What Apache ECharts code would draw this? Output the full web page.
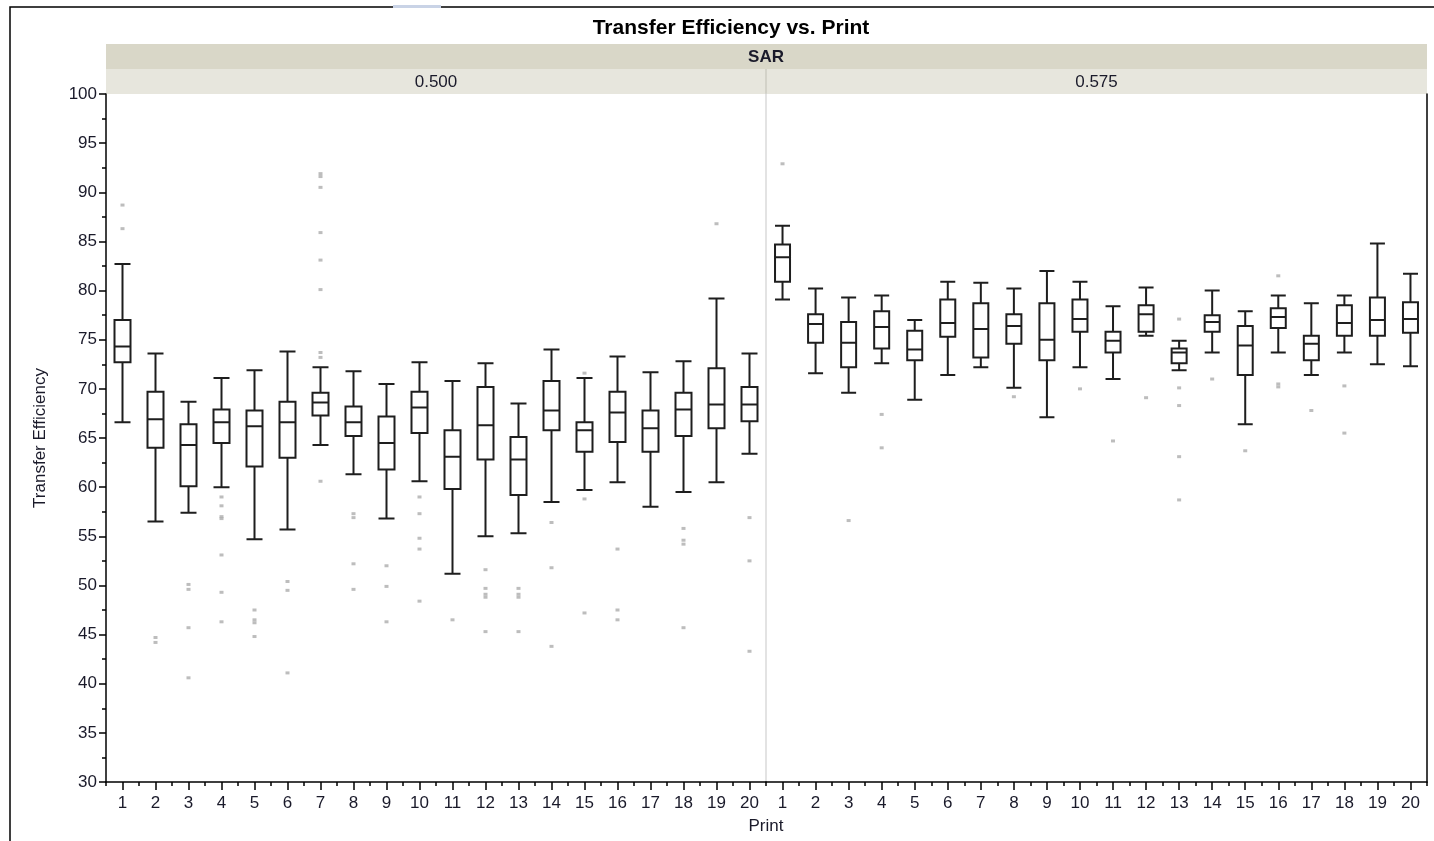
<!DOCTYPE html>
<html>
<head>
<meta charset="utf-8">
<script src="https://cdn.jsdelivr.net/npm/echarts@6/dist/echarts.min.js"></script>
<style>
html,body{margin:0;padding:0;background:#fff;}
#chart{width:1434px;height:841px;}
</style>
</head>
<body>
<div id="chart"></div>
<script>
// ---- Data ----
var printCategories = ['1','2','3','4','5','6','7','8','9','10','11','12','13','14','15','16','17','18','19','20'];
var panelLabels = ['0.500', '0.575'];
var yTicks = { min: 30, max: 100, step: 5 };

// [lower whisker, Q1, median, Q3, upper whisker]
var sar0500Boxes = [
  [66.6, 72.7, 74.3, 77.0, 82.7],
  [56.5, 64.0, 66.9, 69.7, 73.6],
  [57.4, 60.1, 64.3, 66.4, 68.7],
  [60.0, 64.5, 66.6, 67.9, 71.1],
  [54.7, 62.1, 66.2, 67.8, 71.9],
  [55.7, 63.0, 66.6, 68.7, 73.8],
  [64.3, 67.3, 68.6, 69.6, 72.2],
  [61.3, 65.2, 66.6, 68.2, 71.8],
  [56.8, 61.8, 64.5, 67.2, 70.5],
  [60.6, 65.5, 68.1, 69.7, 72.7],
  [51.2, 59.8, 63.1, 65.8, 70.8],
  [55.0, 62.8, 66.3, 70.2, 72.6],
  [55.3, 59.2, 62.8, 65.1, 68.5],
  [58.5, 65.8, 67.8, 70.8, 74.0],
  [59.7, 63.6, 65.8, 66.6, 71.1],
  [60.5, 64.6, 67.6, 69.7, 73.3],
  [58.0, 63.6, 66.0, 67.8, 71.7],
  [59.5, 65.2, 67.9, 69.6, 72.8],
  [60.5, 66.0, 68.4, 72.1, 79.2],
  [63.4, 66.7, 68.4, 70.2, 73.6]
];
var sar0500Outliers = [
  [88.7, 86.3],
  [44.7, 44.2],
  [50.1, 49.6, 45.7, 40.6],
  [59.0, 58.1, 57.0, 56.8, 53.1, 49.3, 46.3],
  [47.5, 46.5, 46.2, 44.8],
  [50.4, 49.5, 41.1],
  [91.9, 91.6, 90.5, 85.9, 83.1, 80.1, 73.7, 73.2, 60.6],
  [57.3, 56.9, 52.2, 49.6],
  [52.0, 49.9, 46.3],
  [59.0, 57.3, 54.8, 53.7, 48.4],
  [46.5],
  [51.6, 49.7, 49.1, 48.8, 45.3],
  [49.7, 49.1, 48.8, 45.3],
  [56.4, 51.8, 43.8],
  [71.6, 58.8, 47.2],
  [53.7, 47.5, 46.5],
  [],
  [55.8, 54.6, 54.2, 45.7],
  [86.8],
  [56.9, 52.5, 43.3]
];

var sar0575Boxes = [
  [79.1, 80.9, 83.4, 84.7, 86.6],
  [71.6, 74.7, 76.6, 77.6, 80.2],
  [69.6, 72.2, 74.7, 76.8, 79.3],
  [72.6, 74.1, 76.3, 77.9, 79.5],
  [68.9, 72.9, 74.0, 75.9, 77.0],
  [71.4, 75.3, 76.7, 79.1, 80.9],
  [72.2, 73.2, 76.1, 78.7, 80.8],
  [70.1, 74.6, 76.4, 77.6, 80.2],
  [67.1, 72.9, 75.0, 78.7, 82.0],
  [72.2, 75.8, 77.1, 79.1, 80.9],
  [71.0, 73.7, 74.9, 75.8, 78.4],
  [75.4, 75.8, 77.6, 78.5, 80.3],
  [71.9, 72.6, 73.7, 74.1, 74.9],
  [73.7, 75.8, 76.8, 77.5, 80.0],
  [66.4, 71.4, 74.4, 76.4, 77.9],
  [73.7, 76.2, 77.3, 78.2, 79.5],
  [71.4, 72.9, 74.6, 75.4, 78.7],
  [73.7, 75.4, 76.7, 78.5, 79.5],
  [72.5, 75.4, 77.0, 79.3, 84.8],
  [72.3, 75.7, 77.1, 78.8, 81.7]
];
var sar0575Outliers = [
  [92.9],
  [],
  [56.6],
  [67.4, 64.0],
  [],
  [],
  [],
  [69.2],
  [],
  [70.0],
  [64.7],
  [69.1],
  [77.1, 70.1, 68.3, 63.1, 58.7],
  [71.0],
  [63.7],
  [81.5, 70.5, 70.2],
  [67.8],
  [70.3, 65.5],
  [],
  []
];

function flattenOutliers(list) {
  var out = [];
  list.forEach(function (vals, i) {
    vals.forEach(function (v) { out.push([i, v]); });
  });
  return out;
}

// ---- Chart ----
var FONT = 'Arial, "Liberation Sans", sans-serif';
var TXT = '#1a1a2a';
var chart = echarts.init(document.getElementById('chart'), null, { renderer: 'canvas' });

var L = 106, T = 94, H = 688, W0 = 660, W1 = 661, MID = 766;

function majorX(gi) {
  return {
    type: 'category', gridIndex: gi, position: 'bottom', data: printCategories, boundaryGap: true,
    axisLine: { show: true, lineStyle: { color: '#000', width: 1.5 } },
    axisTick: { show: true, alignWithLabel: true, length: 8, lineStyle: { color: '#000', width: 1.5 } },
    axisLabel: { show: true, interval: 0, fontSize: 17, fontFamily: FONT, color: TXT, margin: 13 },
    splitLine: { show: false }
  };
}
function minorX(gi) {
  return {
    type: 'category', gridIndex: gi, position: 'bottom', data: printCategories, boundaryGap: true,
    axisLine: { show: false },
    axisTick: { show: true, interval: 0, length: 4, lineStyle: { color: '#000', width: 1.5 } },
    axisLabel: { show: false },
    splitLine: { show: false }
  };
}

var boxStyle = { color: 'rgba(255,255,255,0)', borderColor: '#1e1e1e', borderWidth: 2 };
var outStyle = { color: '#acacac' };

chart.setOption({
  animation: false,
  backgroundColor: '#fff',
  grid: [
    { left: L, top: T, width: W0, height: H, containLabel: false },
    { left: MID, top: T, width: W1, height: H, containLabel: false }
  ],
  xAxis: [majorX(0), minorX(0), majorX(1), minorX(1)],
  yAxis: [
    {
      type: 'value', gridIndex: 0, min: yTicks.min, max: yTicks.max, interval: yTicks.step,
      axisLine: { show: true, lineStyle: { color: '#000', width: 1.5 } },
      axisTick: { show: true, length: 7, lineStyle: { color: '#000', width: 1.5 } },
      minorTick: { show: true, splitNumber: 2, length: 4, lineStyle: { color: '#000', width: 1.5 } },
      axisLabel: { fontSize: 17, fontFamily: FONT, color: TXT, margin: 9 },
      splitLine: { show: false }
    },
    {
      type: 'value', gridIndex: 1, min: yTicks.min, max: yTicks.max, interval: yTicks.step,
      axisLine: { show: true, lineStyle: { color: '#dadada', width: 1.5 } },
      axisTick: { show: false }, axisLabel: { show: false }, splitLine: { show: false }
    },
    {
      type: 'value', gridIndex: 1, position: 'right', min: yTicks.min, max: yTicks.max, interval: yTicks.step,
      axisLine: { show: true, lineStyle: { color: '#000', width: 1.5 } },
      axisTick: { show: false }, axisLabel: { show: false }, splitLine: { show: false }
    }
  ],
  series: [
    {
      type: 'boxplot', xAxisIndex: 0, yAxisIndex: 0, data: sar0500Boxes,
      boxWidth: [16, 16], itemStyle: boxStyle, silent: true
    },
    {
      type: 'boxplot', xAxisIndex: 2, yAxisIndex: 1, data: sar0575Boxes,
      boxWidth: [15, 15], itemStyle: boxStyle, silent: true
    },
    {
      type: 'scatter', xAxisIndex: 0, yAxisIndex: 0, data: flattenOutliers(sar0500Outliers),
      symbol: 'rect', symbolSize: [4, 3], itemStyle: outStyle, silent: true
    },
    {
      type: 'scatter', xAxisIndex: 2, yAxisIndex: 1, data: flattenOutliers(sar0575Outliers),
      symbol: 'rect', symbolSize: [4, 3], itemStyle: outStyle, silent: true
    }
  ],
  graphic: [
    { type: 'rect', shape: { x: 10, y: 7, width: 1440, height: 900 }, style: { fill: 'none', stroke: '#000', lineWidth: 1.5 }, silent: true, z: 0 },
    { type: 'rect', shape: { x: 393, y: 5, width: 48, height: 3 }, style: { fill: '#c9d3e6' }, silent: true },
    { type: 'rect', shape: { x: L, y: 44, width: W0 + W1, height: 25 }, style: { fill: '#d9d7c8' }, silent: true },
    { type: 'rect', shape: { x: L, y: 69, width: W0 + W1, height: 25 }, style: { fill: '#e7e6dd' }, silent: true },
    { type: 'line', shape: { x1: MID, y1: 69, x2: MID, y2: 94 }, style: { stroke: '#d3d2c8', lineWidth: 2 }, silent: true },
    { type: 'text', x: 731, y: 28, style: { text: 'Transfer Efficiency vs. Print', font: 'bold 21px ' + FONT, fill: '#000', textAlign: 'center', textVerticalAlign: 'middle' }, silent: true },
    { type: 'text', x: MID, y: 57, style: { text: 'SAR', font: 'bold 17px ' + FONT, fill: TXT, textAlign: 'center', textVerticalAlign: 'middle' }, silent: true },
    { type: 'text', x: L + W0 / 2, y: 82, style: { text: panelLabels[0], font: '17px ' + FONT, fill: TXT, textAlign: 'center', textVerticalAlign: 'middle' }, silent: true },
    { type: 'text', x: MID + W1 / 2, y: 82, style: { text: panelLabels[1], font: '17px ' + FONT, fill: TXT, textAlign: 'center', textVerticalAlign: 'middle' }, silent: true },
    { type: 'text', x: MID, y: 826, style: { text: 'Print', font: '17px ' + FONT, fill: TXT, textAlign: 'center', textVerticalAlign: 'middle' }, silent: true },
    { type: 'text', x: 40, y: 438, rotation: Math.PI / 2, style: { text: 'Transfer Efficiency', font: '17px ' + FONT, fill: TXT, textAlign: 'center', textVerticalAlign: 'middle' }, silent: true }
  ]
});
</script>
</body>
</html>
